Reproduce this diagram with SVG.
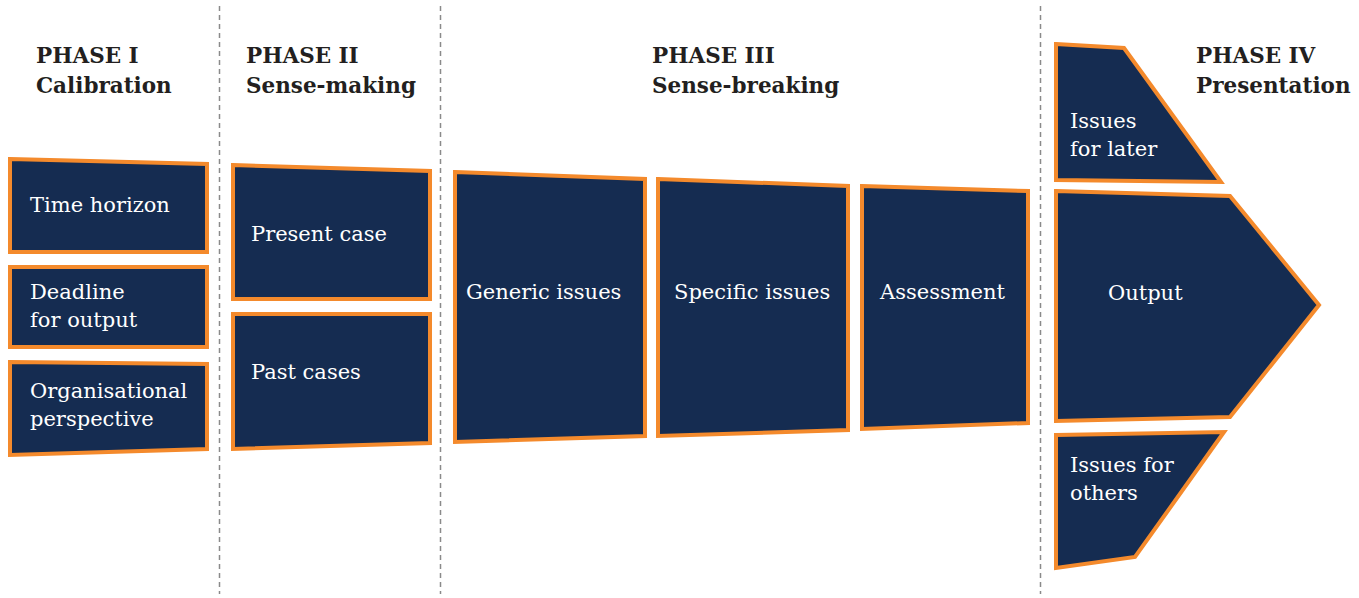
<svg xmlns="http://www.w3.org/2000/svg" width="1359" height="598" viewBox="0 0 1359 598">
<style>
.box{fill:#152c51;stroke:#f48a2c;stroke-width:4;stroke-linejoin:miter}
.lbl{font-family:"DejaVu Serif","Liberation Serif",serif;font-size:21px;fill:#ffffff}
.hd{font-family:"DejaVu Serif","Liberation Serif",serif;font-size:21.5px;font-weight:bold;fill:#231f20}
.div{stroke:#8a8a8a;stroke-width:1.5;stroke-dasharray:5 4;fill:none}
</style>
<rect width="1359" height="598" fill="#ffffff"/>
<g id="dividers">
<line class="div" x1="219.5" y1="6" x2="219.5" y2="594"/>
<line class="div" x1="440.5" y1="6" x2="440.5" y2="594"/>
<line class="div" x1="1040.5" y1="6" x2="1040.5" y2="594"/>
</g>
<g id="headings">
<text class="hd" x="36" y="63">PHASE I</text>
<text class="hd" x="36" y="93">Calibration</text>
<text class="hd" x="246" y="63">PHASE II</text>
<text class="hd" x="246" y="93">Sense-making</text>
<text class="hd" x="652" y="63">PHASE III</text>
<text class="hd" x="652" y="93">Sense-breaking</text>
<text class="hd" x="1196" y="63">PHASE IV</text>
<text class="hd" x="1196" y="93">Presentation</text>
</g>
<g id="time-horizon">
<polygon class="box" points="10,159 207,164 207,252 10,252"/>
<text class="lbl" x="30" y="212">Time horizon</text>
</g>
<g id="deadline">
<polygon class="box" points="10,267 207,267 207,347 10,347"/>
<text class="lbl" x="30" y="299">Deadline</text>
<text class="lbl" x="30" y="327">for output</text>
</g>
<g id="organisational">
<polygon class="box" points="10,362 207,364 207,449 10,455"/>
<text class="lbl" x="30" y="398">Organisational</text>
<text class="lbl" x="30" y="426">perspective</text>
</g>
<g id="present-case">
<polygon class="box" points="233,165 430,171 430,299 233,299"/>
<text class="lbl" x="251" y="241">Present case</text>
</g>
<g id="past-cases">
<polygon class="box" points="233,314 430,314 430,443 233,449"/>
<text class="lbl" x="251" y="379">Past cases</text>
</g>
<g id="generic-issues">
<polygon class="box" points="455,172 645,179 645,436 455,442"/>
<text class="lbl" x="466" y="299">Generic issues</text>
</g>
<g id="specific-issues">
<polygon class="box" points="658,179 848,186 848,430 658,436"/>
<text class="lbl" x="674" y="299">Specific issues</text>
</g>
<g id="assessment">
<polygon class="box" points="862,186 1028,191 1028,423 862,429"/>
<text class="lbl" x="880" y="299">Assessment</text>
</g>
<g id="issues-for-later">
<polygon class="box" points="1056,44 1124,48 1221,182 1056,180"/>
<text class="lbl" x="1070" y="128">Issues</text>
<text class="lbl" x="1070" y="156">for later</text>
</g>
<g id="output">
<polygon class="box" points="1056,191 1230,196 1319,305 1230,417 1056,421"/>
<text class="lbl" x="1108" y="300">Output</text>
</g>
<g id="issues-for-others">
<polygon class="box" points="1056,435 1224,432 1135,557 1056,568"/>
<text class="lbl" x="1070" y="472">Issues for</text>
<text class="lbl" x="1070" y="500">others</text>
</g>
<g id="connectors"></g>
</svg>
